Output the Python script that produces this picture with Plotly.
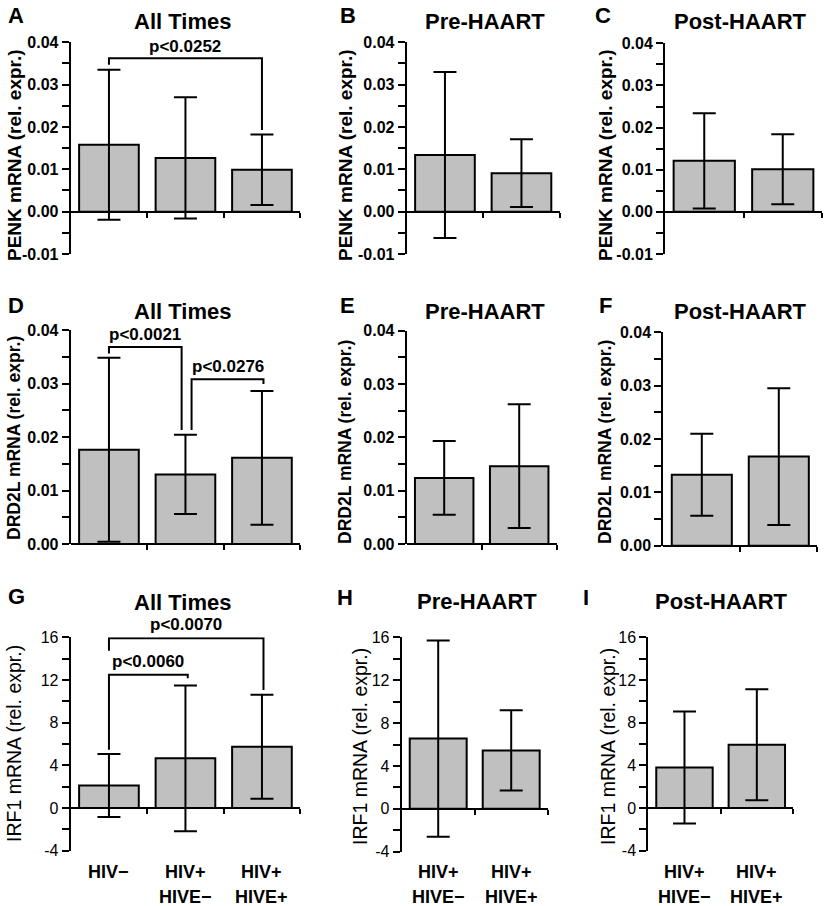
import plotly.graph_objects as go
import numpy as np

W, H = 825, 906
FONT = "Liberation Sans, Arial, sans-serif"

# ---------------- data ----------------
groups_all = ["HIV\u2212", "HIV+<br>HIVE\u2212", "HIV+<br>HIVE+"]
groups_haart = ["HIV+<br>HIVE\u2212", "HIV+<br>HIVE+"]

penk_all = [0.0158, 0.0127, 0.0099]
penk_all_err = [0.0177, 0.0143, 0.0083]
penk_pre = [0.0134, 0.0091]
penk_pre_err = [0.0196, 0.0080]
penk_post = [0.0121, 0.0101]
penk_post_err = [0.0113, 0.0083]

drd_all = [0.0176, 0.0130, 0.0161]
drd_all_err = [0.0172, 0.0074, 0.0125]
drd_pre = [0.0124, 0.0146]
drd_pre_err = [0.0069, 0.0116]
drd_post = [0.0133, 0.0167]
drd_post_err = [0.0077, 0.0128]

irf_all = [2.11, 4.66, 5.74]
irf_all_err = [2.95, 6.83, 4.87]
irf_pre = [6.55, 5.45]
irf_pre_err = [9.15, 3.75]
irf_post = [3.80, 5.93]
irf_post_err = [5.25, 5.20]

penk_ticks = [-0.01, 0.0, 0.01, 0.02, 0.03, 0.04]
penk_ticktext = ["-0.01", "0.00", "0.01", "0.02", "0.03", "0.04"]
drd_ticks = [0.0, 0.01, 0.02, 0.03, 0.04]
drd_ticktext = ["0.00", "0.01", "0.02", "0.03", "0.04"]
irf_ticks = [-4, 0, 4, 8, 12, 16]
irf_ticktext = ["-4", "0", "4", "8", "12", "16"]

# significance brackets: x_left, x_right, y_left_end, y_top, y_right_end, label, label_y
brackets_penk = [(0.0, 2.0, 0.0347, 0.03625, 0.0193, "p<0.0252", 0.0389)]
brackets_drd = [(0.0, 0.95, 0.0356, 0.0368, 0.0213, "p<0.0021", 0.0391),
                (1.08, 2.02, 0.0213, 0.0308, 0.0299, "p<0.0276", 0.0331)]
brackets_irf = [(0.0, 2.02, 14.75, 15.92, 11.07, "p<0.0070", 17.16),
                (0.0, 1.03, 5.46, 12.48, 12.17, "p<0.0060", 13.73)]

# ---------------- layout helpers ----------------
def px_x(v):
    return v / W

def px_y(v):
    return 1 - v / H

panels = [
    dict(letter="A", title="All Times", ytitle="PENK mRNA (rel. expr.)", v=penk_all, e=penk_all_err,
         ticks=penk_ticks, tt=penk_ticktext, minor=0.005, xd=(70.7, 300.2), yd=(42.3, 254.0),
         br=brackets_penk, bold=True, lp=(16, 16), tp=(182.5, 21), yp=(14, 155), ys=19, labels=None),
    dict(letter="B", title="Pre-HAART", ytitle="PENK mRNA (rel. expr.)", v=penk_pre, e=penk_pre_err,
         ticks=penk_ticks, tt=penk_ticktext, minor=0.005, xd=(406.7, 559.7), yd=(42.3, 254.0),
         br=[], bold=True, lp=(348, 16), tp=(485, 21.5), yp=(345, 155), ys=19, labels=None),
    dict(letter="C", title="Post-HAART", ytitle="PENK mRNA (rel. expr.)", v=penk_post, e=penk_post_err,
         ticks=penk_ticks, tt=penk_ticktext, minor=0.005, xd=(665.0, 822.0), yd=(43.3, 254.0),
         br=[], bold=True, lp=(603, 16), tp=(740, 21.5), yp=(605, 155), ys=19, labels=None),
    dict(letter="D", title="All Times", ytitle="DRD2L mRNA (rel. expr.)", v=drd_all, e=drd_all_err,
         ticks=drd_ticks, tt=drd_ticktext, minor=0.005, xd=(70.7, 300.2), yd=(330.0, 544.0),
         br=brackets_drd, bold=True, lp=(16, 305), tp=(182.5, 311), yp=(14, 438), ys=17.5, labels=None),
    dict(letter="E", title="Pre-HAART", ytitle="DRD2L mRNA (rel. expr.)", v=drd_pre, e=drd_pre_err,
         ticks=drd_ticks, tt=drd_ticktext, minor=0.005, xd=(406.7, 556.7), yd=(330.7, 544.0),
         br=[], bold=True, lp=(347, 305), tp=(485, 311), yp=(345, 442), ys=17.5, labels=None),
    dict(letter="F", title="Post-HAART", ytitle="DRD2L mRNA (rel. expr.)", v=drd_post, e=drd_post_err,
         ticks=drd_ticks, tt=drd_ticktext, minor=0.005, xd=(663.3, 817.3), yd=(332.3, 545.7),
         br=[], bold=True, lp=(605, 305), tp=(740.5, 311), yp=(605, 442), ys=17.5, labels=None),
    dict(letter="G", title="All Times", ytitle="IRF1 mRNA (rel. expr.)", v=irf_all, e=irf_all_err,
         ticks=irf_ticks, tt=irf_ticktext, minor=2, xd=(70.7, 300.2), yd=(637.3, 850.7),
         br=brackets_irf, bold=False, lp=(16, 596), tp=(182.5, 602), yp=(14, 744), ys=19.5, labels=groups_all),
    dict(letter="H", title="Pre-HAART", ytitle="IRF1 mRNA (rel. expr.)", v=irf_pre, e=irf_pre_err,
         ticks=irf_ticks, tt=irf_ticktext, minor=2, xd=(401.7, 547.7), yd=(637.3, 851.7),
         br=[], bold=False, lp=(345, 597), tp=(476.7, 601), yp=(360, 747), ys=19.5, labels=groups_haart),
    dict(letter="I", title="Post-HAART", ytitle="IRF1 mRNA (rel. expr.)", v=irf_post, e=irf_post_err,
         ticks=irf_ticks, tt=irf_ticktext, minor=2, xd=(648.3, 793.0), yd=(637.3, 850.7),
         br=[], bold=False, lp=(586, 597), tp=(721.7, 601), yp=(608, 747), ys=19.5, labels=groups_haart),
]

fig = go.Figure()
layout = dict(template="none", width=W, height=H, autosize=False,
              margin=dict(l=0, r=0, t=0, b=0, pad=0, autoexpand=False),
              paper_bgcolor="white", plot_bgcolor="white", showlegend=False,
              font=dict(family=FONT, color="black"))
annotations = []

for i, p in enumerate(panels):
    k = "" if i == 0 else str(i + 1)
    xa, ya = "x" + k, "y" + k
    n = len(p["v"])
    xs = list(range(n))
    ymin, ymax = p["ticks"][0], p["ticks"][-1]

    fig.add_trace(go.Bar(
        x=xs, y=p["v"], width=0.78, xaxis=xa, yaxis=ya,
        marker=dict(color="#c0c0c0", line=dict(color="black", width=2)),
        error_y=dict(type="data", array=p["e"], visible=True, color="black", thickness=2, width=11.5),
        hoverinfo="skip"))
    for (xl, xr, yl, yt, yr, lab, ly) in p["br"]:
        fig.add_trace(go.Scatter(x=[xl, xl, xr, xr], y=[yl, yt, yt, yr], mode="lines",
                                 line=dict(color="black", width=2), xaxis=xa, yaxis=ya,
                                 hoverinfo="skip", cliponaxis=False))
        # label placed in the y-axis domain frame (value mapped through the axis range)
        annotations.append(dict(x=(xl + xr) / 2, y=(ly - ymin) / (ymax - ymin),
                                xref=xa, yref=ya + " domain", text="<b>%s</b>" % lab, showarrow=False,
                                font=dict(size=17, family=FONT), xanchor="center", yanchor="middle"))

    yd0, yd1 = px_y(p["yd"][1]), px_y(p["yd"][0])
    zero_pos = yd0 + (0 - ymin) / (ymax - ymin) * (yd1 - yd0)
    tickweight = "bold" if p["bold"] else "normal"
    minor_vals = list(np.arange(ymin + p["minor"], ymax, p["minor"] * 2))

    layout["xaxis" + k] = dict(
        domain=[px_x(p["xd"][0]), px_x(p["xd"][1])], range=[-0.5, n - 0.5],
        anchor="free", position=zero_pos, automargin=False,
        showline=True, linecolor="black", linewidth=2, showgrid=False, zeroline=False,
        ticks="outside", ticklen=5, tickwidth=2, tickcolor="black",
        tickmode="array", tickvals=[j + 0.5 for j in range(n)], showticklabels=False,
        fixedrange=True)
    layout["yaxis" + k] = dict(
        domain=[yd0, yd1], range=[ymin, ymax], anchor=xa, automargin=False,
        showline=True, linecolor="black", linewidth=2, showgrid=False, zeroline=False,
        ticks="outside", ticklen=7, tickwidth=2, tickcolor="black",
        tickmode="array", tickvals=p["ticks"], ticktext=p["tt"],
        tickfont=dict(size=16, family=FONT, weight=tickweight),
        minor=dict(tickmode="array", tickvals=minor_vals, ticks="outside", ticklen=7,
                   tickwidth=2, tickcolor="black", showgrid=False),
        fixedrange=True)

    annotations.append(dict(x=px_x(p["lp"][0]), y=px_y(p["lp"][1]), xref="paper", yref="paper",
                            text="<b>%s</b>" % p["letter"], showarrow=False,
                            font=dict(size=22, family=FONT), xanchor="center", yanchor="middle"))
    annotations.append(dict(x=px_x(p["tp"][0]), y=px_y(p["tp"][1]), xref="paper", yref="paper",
                            text="<b>%s</b>" % p["title"], showarrow=False,
                            font=dict(size=22, family=FONT), xanchor="center", yanchor="middle"))
    yt_text = ("<b>%s</b>" % p["ytitle"]) if p["bold"] else p["ytitle"]
    annotations.append(dict(x=px_x(p["yp"][0]), y=px_y(p["yp"][1]), xref="paper", yref="paper",
                            text=yt_text, textangle=-90, showarrow=False,
                            font=dict(size=p["ys"], family=FONT), xanchor="center", yanchor="middle"))
    if p["labels"]:
        for j, lab in enumerate(p["labels"]):
            for li, line in enumerate(lab.split("<br>")):
                annotations.append(dict(x=j, y=px_y(872 + 25 * li), xref=xa, yref="paper",
                                        text="<b>%s</b>" % line, showarrow=False,
                                        font=dict(size=18, family=FONT),
                                        xanchor="center", yanchor="middle"))

layout["annotations"] = annotations
fig.update_layout(**layout)
fig.write_html("out.html", config=dict(displayModeBar=False, responsive=False),
               post_script="document.body.style.margin='0';document.body.style.overflow='hidden';")
